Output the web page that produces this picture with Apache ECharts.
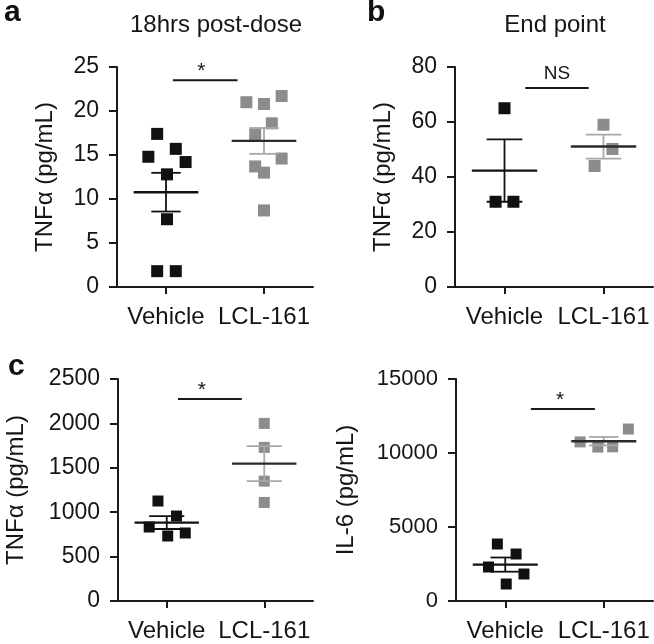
<!DOCTYPE html>
<html><head><meta charset="utf-8">
<script src="https://cdn.jsdelivr.net/npm/echarts@6/dist/echarts.min.js"></script>
<style>html,body{margin:0;padding:0;background:#fff}#c{width:654px;height:644px}</style>
</head><body><div id="c"></div>
<script>
// ---- data ----
const categories = ['Vehicle', 'LCL-161'];

// panel a: TNFα 18hrs post-dose
const aVehicle  = [17.4, 14.8, 15.7, 14.2, 12.8, 7.7, 1.8, 1.8];
const aVehicleX = [0.91, 0.82, 1.10, 1.20, 1.01, 1.01, 0.91, 1.10];
const aLCL      = [21.0, 20.8, 21.7, 18.6, 17.3, 14.6, 13.7, 13.0, 8.7];
const aLCLX     = [1.82, 2.00, 2.18, 2.08, 1.91, 2.18, 1.91, 2.00, 2.00];
const aTicks    = [0, 5, 10, 15, 20, 25];

// panel b: TNFα end point
const bVehicle  = [65, 31, 31];
const bVehicleX = [1.00, 0.91, 1.09];
const bLCL      = [59, 50.2, 44];
const bLCLX     = [2.00, 2.09, 1.91];
const bTicks    = [0, 20, 40, 60, 80];

// panel c: TNFα
const cVehicle  = [1126, 957, 833, 732, 766];
const cVehicleX = [0.91, 1.10, 0.82, 1.01, 1.19];
const cLCL      = [2000, 1730, 1350, 1110];
const cLCLX     = [2.00, 2.00, 2.00, 2.00];
const cTicks    = [0, 500, 1000, 1500, 2000, 2500];

// panel d: IL-6
const dVehicle  = [3851, 3176, 2297, 1824, 1149];
const dVehicleX = [0.92, 1.11, 0.83, 1.19, 1.01];
const dLCL      = [10750, 10400, 10420, 11620];
const dLCLX     = [1.76, 1.94, 2.09, 2.25];
const dTicks    = [0, 5000, 10000, 15000];

const titles = ['18hrs post-dose', 'End point'];
const yNames = ['TNFα (pg/mL)', 'TNFα (pg/mL)', 'TNFα (pg/mL)', 'IL-6 (pg/mL)'];
const sigLabels = ['*', 'NS', '*', '*'];

// ---- helpers ----
const FONT = 'Liberation Sans, Arial, Helvetica, sans-serif';
const TXT = '#151515';
const BLACK = '#111111', GREY = '#8c8c8c', GREY_MEAN = '#2a2a2a', GREY_SEM = '#a8a8a8';

function mean(a) { return a.reduce((s, v) => s + v, 0) / a.length; }
function sem(a) {
  const m = mean(a);
  const sd = Math.sqrt(a.reduce((s, v) => s + (v - m) * (v - m), 0) / (a.length - 1));
  return sd / Math.sqrt(a.length);
}
function zip(xs, ys) { return ys.map((y, i) => [xs[i], y]); }

const panels = [
  { grid: { left: 117, top: 67, width: 196, height: 220 }, ticks: aTicks, name: yNames[0], gap: 60, lab: 23,
    veh: aVehicle, vehX: aVehicleX, lcl: aLCL, lclX: aLCLX, size: 12, cap: 0.15,
    sig: { x1: 1.07, x2: 1.73, yFrac: 0.94, tx: 1.36 }, sigLabel: sigLabels[0] },
  { grid: { left: 455, top: 67, width: 198, height: 220 }, ticks: bTicks, name: yNames[1], gap: 60, lab: 23,
    veh: bVehicle, vehX: bVehicleX, lcl: bLCL, lclX: bLCLX, size: 12, cap: 0.18,
    sig: { x1: 1.21, x2: 1.85, yFrac: 0.905, tx: 1.53 }, sigLabel: sigLabels[1] },
  { grid: { left: 118, top: 379, width: 195, height: 222 }, ticks: cTicks, name: yNames[2], gap: 90, lab: 23,
    veh: cVehicle, vehX: cVehicleX, lcl: cLCL, lclX: cLCLX, size: 11, cap: 0.18,
    sig: { x1: 1.115, x2: 1.77, yFrac: 0.91, tx: 1.36 }, sigLabel: sigLabels[2] },
  { grid: { left: 456, top: 379, width: 197, height: 222 }, ticks: dTicks, name: yNames[3], gap: 98, lab: 22,
    veh: dVehicle, vehX: dVehicleX, lcl: dLCL, lclX: dLCLX, size: 11, cap: 0.15,
    sig: { x1: 1.26, x2: 1.91, yFrac: 0.865, tx: 1.556 }, sigLabel: sigLabels[3] }
];

const grids = [], xAxes = [], yAxes = [], series = [];

function renderMean(params, api) {
  const x = api.value(0), m = api.value(1), lo = api.value(2), hi = api.value(3), grp = api.value(4), capW = api.value(5);
  const c = api.coord([x, m]), cl = api.coord([x, lo]), ch = api.coord([x, hi]);
  const unit = api.size([1, 0])[0];
  const mw = 0.33 * unit, cw = capW * unit;
  const semCol = grp === 0 ? BLACK : GREY_SEM;
  const meanCol = grp === 0 ? BLACK : GREY_MEAN;
  const semStyle = { stroke: semCol, lineWidth: 1.8 };
  return { type: 'group', children: [
    { type: 'line', shape: { x1: c[0], y1: ch[1], x2: c[0], y2: cl[1] }, style: semStyle },
    { type: 'line', shape: { x1: c[0] - cw, y1: ch[1], x2: c[0] + cw, y2: ch[1] }, style: semStyle },
    { type: 'line', shape: { x1: c[0] - cw, y1: cl[1], x2: c[0] + cw, y2: cl[1] }, style: semStyle },
    { type: 'line', shape: { x1: c[0] - mw, y1: c[1], x2: c[0] + mw, y2: c[1] }, style: { stroke: meanCol, lineWidth: 2.4 } }
  ]};
}

panels.forEach((p, i) => {
  grids.push(p.grid);
  const ymax = p.ticks[p.ticks.length - 1];
  const axisLine = { show: true, lineStyle: { color: '#1a1a1a', width: 2 } };
  xAxes.push({
    gridIndex: i, type: 'category', data: categories, boundaryGap: true, position: 'bottom',
    axisLine: axisLine, axisTick: { show: true, alignWithLabel: true, length: 7, lineStyle: { color: '#1a1a1a', width: 2 } },
    axisLabel: { color: TXT, fontSize: 24, fontFamily: FONT, margin: 18, interval: 0 },
    splitLine: { show: false }
  });
  xAxes.push({
    gridIndex: i, type: 'value', min: 0.5, max: 2.5, show: false, splitLine: { show: false }
  });
  yAxes.push({
    gridIndex: i, type: 'value', min: p.ticks[0], max: ymax, interval: p.ticks[1] - p.ticks[0],
    axisLine: axisLine, axisTick: { show: true, length: 8, lineStyle: { color: '#1a1a1a', width: 2 } },
    axisLabel: { color: TXT, fontSize: p.lab, fontFamily: FONT, margin: 18, formatter: v => String(v) },
    splitLine: { show: false },
    name: p.name, nameLocation: 'middle', nameGap: p.gap,
    nameTextStyle: { color: TXT, fontSize: 24, fontFamily: FONT }
  });
  const xi = i * 2 + 1;
  series.push({
    type: 'scatter', xAxisIndex: xi, yAxisIndex: i, symbol: 'rect', symbolSize: p.size,
    itemStyle: { color: BLACK, opacity: 1 }, data: zip(p.vehX, p.veh), z: 2, silent: true
  });
  series.push({
    type: 'scatter', xAxisIndex: xi, yAxisIndex: i, symbol: 'rect', symbolSize: p.size,
    itemStyle: { color: GREY, opacity: 1 }, data: zip(p.lclX, p.lcl), z: 2, silent: true
  });
  const mv = mean(p.veh), sv = sem(p.veh), ml = mean(p.lcl), sl = sem(p.lcl);
  series.push({
    type: 'custom', xAxisIndex: xi, yAxisIndex: i, renderItem: renderMean, z: 5, silent: true,
    encode: { x: 0, y: [1, 2, 3] },
    data: [[1, mv, mv - sv, mv + sv, 0, p.cap], [2, ml, ml - sl, ml + sl, 1, p.cap]]
  });
  const sy = ymax * p.sig.yFrac;
  series.push({
    type: 'line', xAxisIndex: xi, yAxisIndex: i, symbol: 'none', silent: true, z: 5,
    lineStyle: { color: '#1a1a1a', width: 2 }, data: [[p.sig.x1, sy], [p.sig.x2, sy]]
  });
  const isStar = p.sigLabel === '*';
  series.push({
    type: 'scatter', xAxisIndex: xi, yAxisIndex: i, symbolSize: 0, silent: true, z: 6,
    itemStyle: { opacity: 1 },
    data: [[p.sig.tx, sy]],
    label: { show: true, position: 'top', distance: isStar ? -2 : 5, formatter: p.sigLabel,
      color: TXT, fontSize: isStar ? 21 : 19, fontFamily: FONT }
  });
});

const graphic = [
  { type: 'text', style: { text: titles[0], x: 216, y: 25, align: 'center', verticalAlign: 'middle', fontSize: 24, fontFamily: FONT, fill: TXT } },
  { type: 'text', style: { text: titles[1], x: 555, y: 25, align: 'center', verticalAlign: 'middle', fontSize: 24, fontFamily: FONT, fill: TXT } },
  { type: 'text', style: { text: 'a', x: 4, y: 13, align: 'left', verticalAlign: 'middle', fontSize: 30, fontWeight: 'bold', fontFamily: FONT, fill: '#111' } },
  { type: 'text', style: { text: 'b', x: 367, y: 13, align: 'left', verticalAlign: 'middle', fontSize: 30, fontWeight: 'bold', fontFamily: FONT, fill: '#111' } },
  { type: 'text', style: { text: 'c', x: 8, y: 367, align: 'left', verticalAlign: 'middle', fontSize: 30, fontWeight: 'bold', fontFamily: FONT, fill: '#111' } }
];

const chart = echarts.init(document.getElementById('c'), null, { renderer: 'canvas' });
chart.setOption({
  animation: false,
  backgroundColor: '#fff',
  grid: grids, xAxis: xAxes, yAxis: yAxes, series: series, graphic: graphic
});
</script></body></html>
